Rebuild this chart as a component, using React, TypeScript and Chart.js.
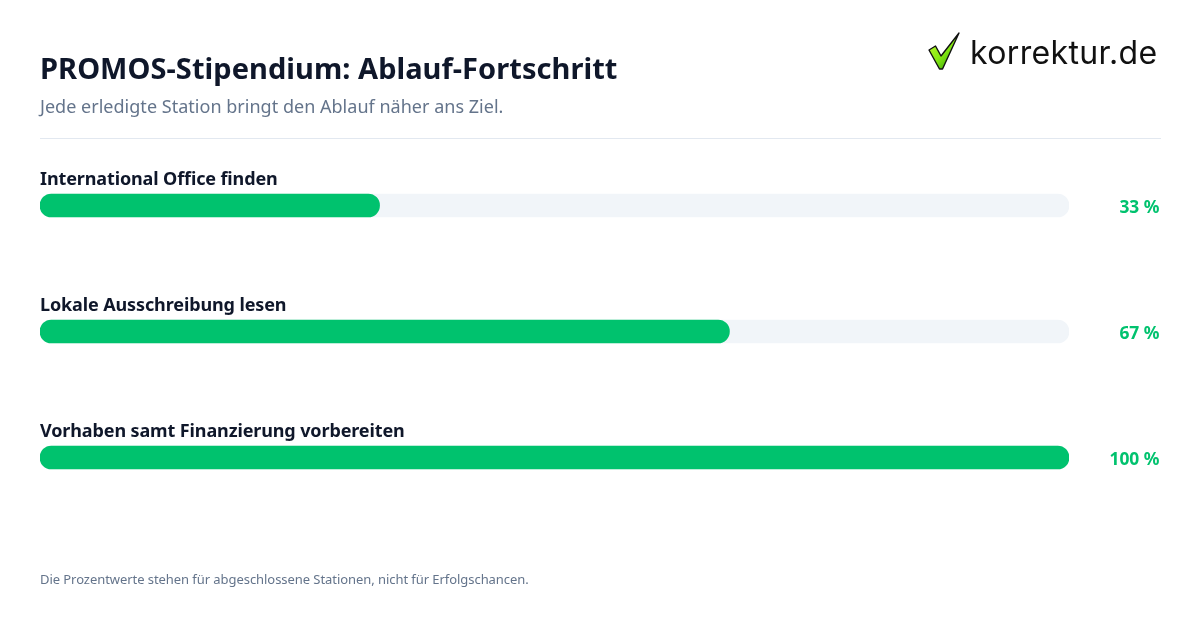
import { useEffect, useRef } from 'react';
import { Chart, registerables } from 'chart.js';

Chart.register(...registerables);

const stations = [
  'International Office finden',
  'Lokale Ausschreibung lesen',
  'Vorhaben samt Finanzierung vorbereiten',
];
const progress = [33, 67, 100];
const track = [100, 100, 100];

const FONT = '"Noto Sans", sans-serif';
const GREEN = '#00C26E';
const INK = '#0F172A';
const MUTED = '#64748B';

// row label above each bar, percent value to the right of it
const rowText = {
  id: 'rowText',
  afterDatasetsDraw(chart: Chart) {
    const { ctx, scales } = chart;
    ctx.save();
    ctx.textBaseline = 'middle';
    stations.forEach((name, i) => {
      const y = scales.y.getPixelForValue(i);
      ctx.font = `700 18px ${FONT}`;
      (ctx as any).letterSpacing = '-0.12px';
      ctx.fillStyle = INK;
      ctx.textAlign = 'left';
      ctx.fillText(name, scales.x.left, y - 26);
      ctx.font = `700 17.4px ${FONT}`;
      (ctx as any).letterSpacing = '0px';
      ctx.fillStyle = GREEN;
      ctx.textAlign = 'right';
      ctx.fillText(`${progress[i]} %`, 1159.5, y + 3);
    });
    ctx.restore();
  },
};

const text = (top: number, size: number, color: string, weight = 400, spacing = 0): React.CSSProperties => ({
  position: 'absolute',
  left: 40,
  top,
  fontFamily: FONT,
  fontSize: size,
  lineHeight: 1,
  fontWeight: weight,
  letterSpacing: spacing,
  color,
  whiteSpace: 'nowrap',
});

const App = () => {
  const canvasRef = useRef<HTMLCanvasElement>(null);

  useEffect(() => {
    if (!canvasRef.current) return;
    const chart = new Chart(canvasRef.current, {
      type: 'bar',
      data: {
        labels: stations,
        datasets: [
          {
            data: progress,
            backgroundColor: GREEN,
            borderRadius: 12,
            borderSkipped: false,
            barThickness: 23,
            grouped: false,
            order: 1,
          },
          {
            data: track,
            backgroundColor: '#F1F5F9',
            borderRadius: 12,
            borderSkipped: false,
            barThickness: 23,
            grouped: false,
            order: 2,
          },
        ],
      },
      options: {
        indexAxis: 'y',
        animation: false,
        responsive: false,
        layout: { padding: { left: 40, right: 131, top: 142.5, bottom: 109.5 } },
        plugins: { legend: { display: false }, tooltip: { enabled: false } },
        scales: {
          x: { display: false, min: 0, max: 100 },
          y: { display: false },
        },
      },
      plugins: [rowText],
    });

    return () => chart.destroy();
  }, []);

  return (
    <div style={{ position: 'fixed', inset: 0, width: 1200, height: 630, background: '#fff', overflow: 'hidden' }}>
      <canvas ref={canvasRef} width={1200} height={630} style={{ position: 'absolute', left: 0, top: 0 }} />
      <div style={text(53, 29, INK, 700, 0.05)}>PROMOS-Stipendium: Ablauf-Fortschritt</div>
      <div style={text(97, 18, MUTED, 400, 0.02)}>Jede erledigte Station bringt den Ablauf näher ans Ziel.</div>
      <div style={{ position: 'absolute', left: 40, top: 138, width: 1121, height: 1, background: '#E2E8F0' }} />
      <div style={text(573, 13, MUTED, 400, -0.06)}>Die Prozentwerte stehen für abgeschlossene Stationen, nicht für Erfolgschancen.</div>
      <svg width={36} height={42} viewBox="0 0 36 42" style={{ position: 'absolute', left: 926, top: 30 }}>
        <defs>
          <linearGradient id="tick" x1="0" y1="0.3" x2="0.6" y2="1">
            <stop offset="0" stopColor="#B4F52A" />
            <stop offset="0.55" stopColor="#86EA12" />
            <stop offset="1" stopColor="#46B00C" />
          </linearGradient>
        </defs>
        <path d="M3 20 L9.5 16 L15 26 L33 3 L16.5 39 L13.5 39 Z" fill="url(#tick)" stroke="#111" strokeWidth="1.4" strokeLinejoin="round" />
      </svg>
      <div style={{ position: 'absolute', left: 970, top: 37, fontFamily: 'Inter, sans-serif', fontSize: 32, letterSpacing: 0.35, lineHeight: 1, color: '#111', whiteSpace: 'nowrap' }}>
        korrektur.de
      </div>
    </div>
  );
};

export default App;
